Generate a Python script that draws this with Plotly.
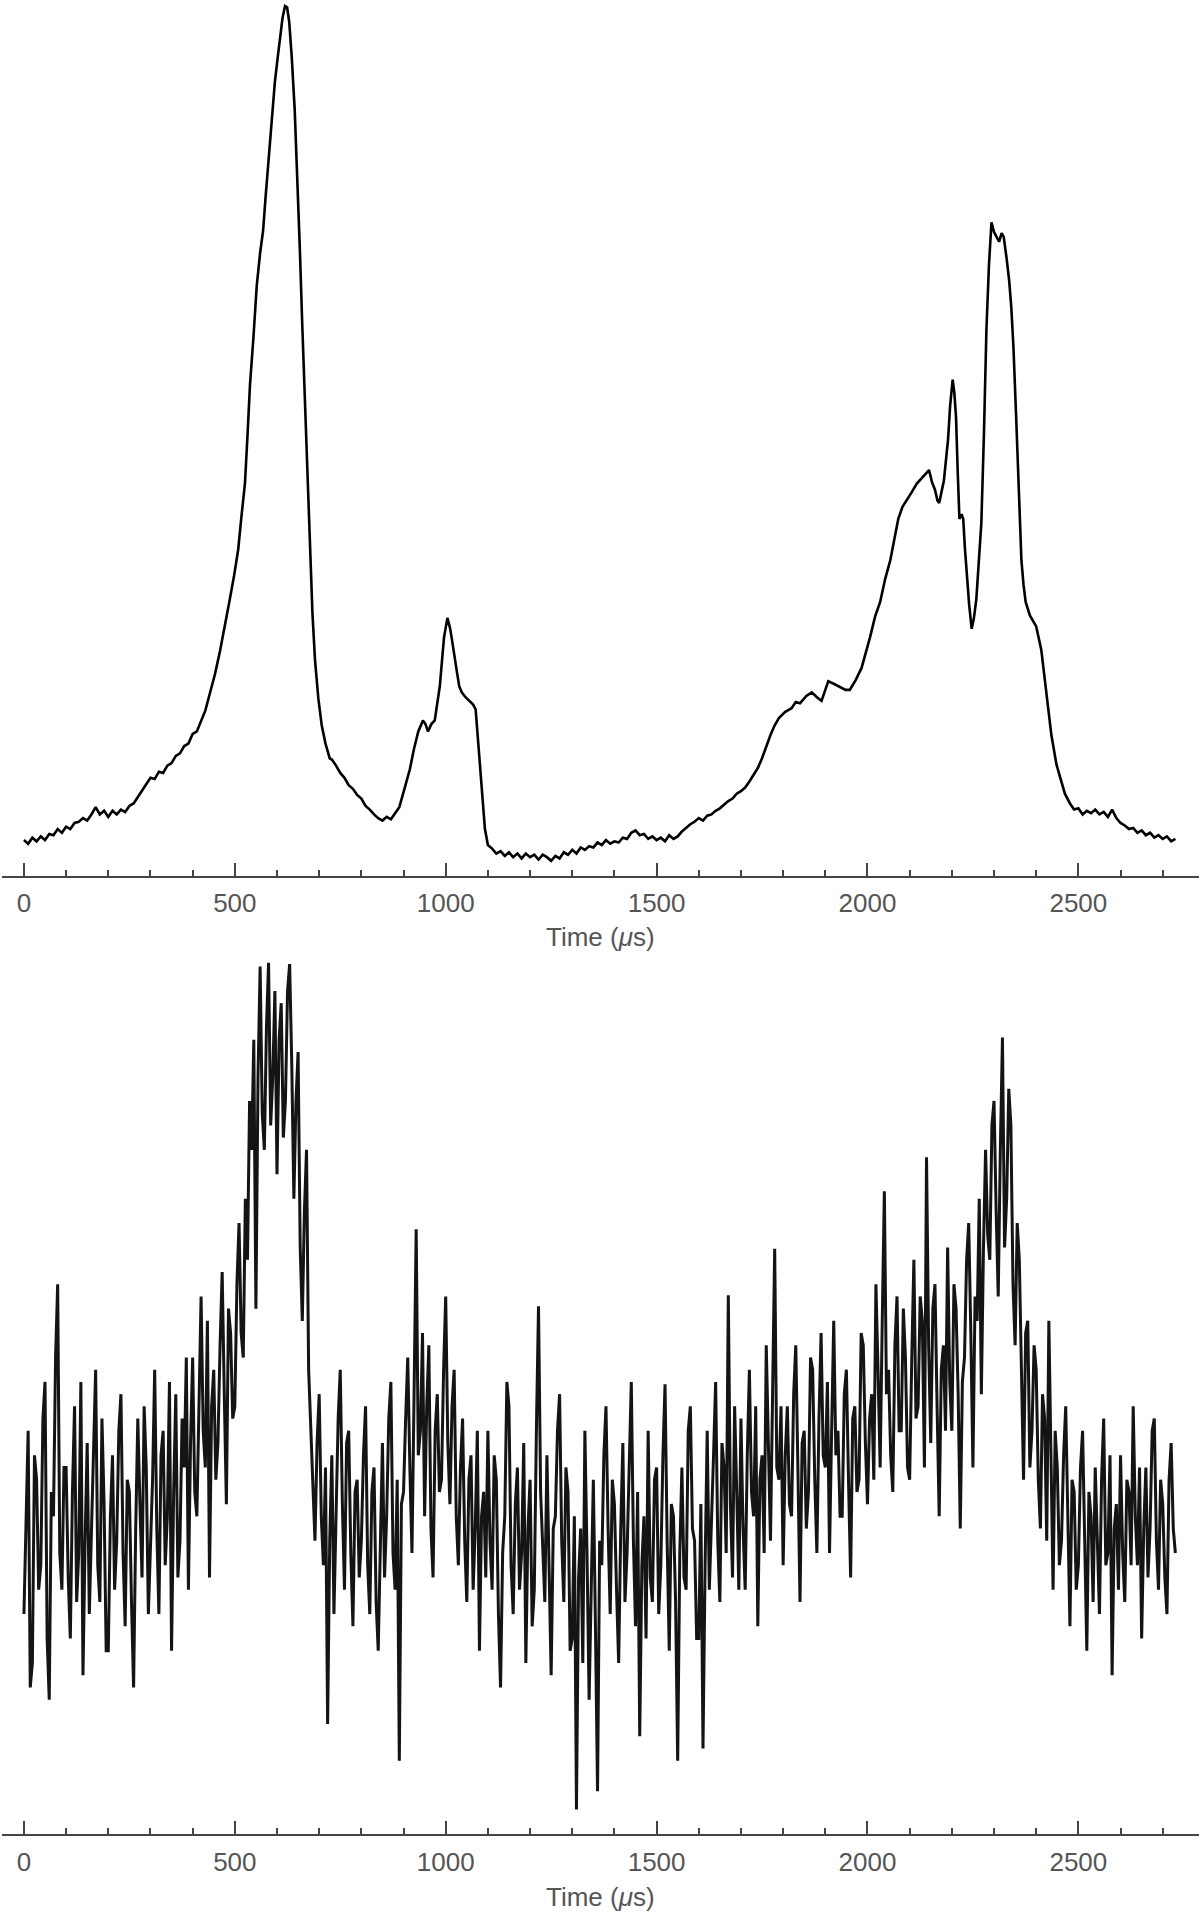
import plotly.graph_objects as go

# ---------------- data ----------------
# Top panel: light curve (arbitrary units)
t_top = [0, 10, 20, 30, 40, 50, 60, 70, 80, 90, 100, 110, 120, 130, 140, 150, 160, 170, 180, 190,
         200, 210, 220, 230, 240, 250, 260, 270, 280, 290, 300, 310, 320, 330, 340, 350, 360, 370, 380, 390,
         400, 410, 420, 430, 440, 453, 465, 477, 488, 498, 508, 516, 524, 530, 536, 544, 552, 560, 567, 573,
         579, 587, 595, 601, 607, 613, 619, 624, 629, 635, 642, 648, 654, 660, 666, 672, 678, 684, 690, 698,
         706, 715, 725, 730, 740, 750, 760, 770, 780, 790, 800, 810, 820, 830, 840, 850, 860, 870, 880, 890,
         903, 915, 925, 935, 946, 952, 958, 966, 974, 980, 986, 991, 996, 1004, 1010, 1014, 1020, 1026, 1032, 1038,
         1047, 1057, 1065, 1071, 1076, 1081, 1087, 1093, 1100, 1110, 1120, 1130, 1140, 1150, 1160, 1170, 1180, 1190, 1200, 1210,
         1220, 1230, 1240, 1250, 1260, 1270, 1280, 1290, 1300, 1310, 1320, 1330, 1340, 1350, 1360, 1370, 1380, 1390, 1400, 1410,
         1420, 1430, 1440, 1450, 1460, 1470, 1480, 1490, 1500, 1510, 1520, 1530, 1540, 1550, 1560, 1570, 1580, 1590, 1600, 1610,
         1620, 1630, 1640, 1650, 1660, 1670, 1680, 1690, 1700, 1710, 1720, 1730, 1740, 1750, 1760, 1770, 1780, 1790, 1805, 1820,
         1830, 1840, 1855, 1868, 1880, 1891, 1900, 1907, 1920, 1935, 1948, 1958, 1972, 1986, 1996, 2006, 2018, 2030, 2042, 2054,
         2064, 2073, 2083, 2093, 2105, 2117, 2127, 2136, 2146, 2153, 2160, 2166, 2170, 2176, 2181, 2186, 2191, 2196, 2202, 2206,
         2210, 2214, 2218, 2223, 2227, 2231, 2235, 2241, 2247, 2252, 2258, 2264, 2270, 2276, 2282, 2288, 2294, 2300, 2306, 2312,
         2318, 2323, 2330, 2336, 2341, 2346, 2352, 2358, 2365, 2370, 2375, 2385, 2395, 2400, 2412, 2424, 2436, 2448, 2458, 2468,
         2480, 2490, 2500, 2510, 2520, 2530, 2540, 2550, 2560, 2570, 2580, 2590, 2600, 2610, 2620, 2630, 2640, 2650, 2660, 2670,
         2680, 2690, 2700, 2710, 2720, 2730]
v_top = [29, 26, 31, 28, 32, 29, 34, 33, 38, 35, 40, 38, 43, 44, 47, 45, 50, 56, 50, 53,
         48, 53, 50, 54, 52, 57, 59, 64, 70, 75, 80, 79, 85, 84, 90, 92, 98, 100, 106, 108,
         116, 118, 126, 135, 148, 165, 184, 205, 226, 245, 267, 295, 321, 360, 402, 440, 483, 510, 528, 556,
         582, 615, 650, 668, 686, 702, 712, 711, 699, 670, 627, 575, 515, 450, 393, 330, 267, 215, 177, 145,
         123, 108, 96, 95, 90, 84, 80, 74, 71, 66, 63, 57, 54, 50, 47, 45, 48, 46, 51, 56,
         72, 87, 104, 118, 127, 124, 118, 124, 127, 140, 155, 175, 195, 211, 203, 195, 180, 168, 155, 150,
         146, 143, 140, 136, 115, 92, 63, 38, 25, 22, 18, 20, 16, 19, 15, 18, 14, 18, 15, 17,
         13, 17, 15, 12, 16, 14, 19, 17, 21, 18, 23, 21, 24, 23, 27, 25, 29, 26, 28, 27,
         31, 30, 35, 37, 33, 34, 30, 32, 29, 31, 28, 33, 30, 32, 36, 39, 42, 44, 47, 45,
         49, 50, 53, 55, 58, 61, 63, 67, 69, 72, 77, 82, 88, 96, 106, 115, 123, 129, 134, 137,
         142, 141, 147, 150, 146, 143, 152, 159, 157, 154, 152, 152, 160, 170, 182, 195, 212, 224, 243, 258,
         276, 292, 302, 307, 314, 321, 325, 328, 332, 322, 316, 307, 305, 315, 323, 340, 357, 385, 406, 395,
         375, 330, 292, 296, 292, 268, 249, 222, 202, 210, 226, 260, 289, 360, 447, 500, 535, 527, 523, 519,
         526, 523, 505, 487, 465, 433, 380, 315, 258, 238, 224, 213, 207, 204, 185, 150, 115, 91, 78, 67,
         59, 54, 55, 50, 53, 51, 54, 50, 52, 48, 54, 47, 43, 41, 38, 39, 35, 37, 33, 35,
         31, 33, 30, 32, 28, 30]

# Bottom panel: noisy light curve sampled every 5 us (arbitrary units)
t_bot = list(range(0, 2731, 5))
v_bot = [
    180, 250, 330, 120, 140, 310, 290, 200, 220, 340, 370, 160, 110, 280, 260, 390, 450, 230, 200, 300,
    300, 210, 160, 280, 350, 190, 230, 370, 130, 240, 320, 180, 250, 310, 380, 220, 190, 340, 270, 150,
    150, 260, 310, 200, 240, 330, 360, 230, 170, 290, 280, 190, 120, 250, 340, 270, 210, 350, 300, 180,
    230, 290, 380, 250, 180, 310, 330, 220, 260, 370, 150, 280, 360, 210, 240, 340, 300, 390, 200, 320,
    390, 280, 260, 350, 440, 330, 300, 420, 210, 350, 380, 290, 320, 400, 460, 360, 270, 430, 410, 340,
    350, 450, 500, 410, 390, 520, 470, 600, 560, 650, 430, 620, 710, 590, 560, 660, 713, 580, 620, 690,
    540, 650, 680, 570, 600, 690, 712, 630, 520, 600, 640, 480, 420, 510, 560, 380, 330, 290, 240, 320,
    360, 260, 220, 300, 90, 240, 310, 180, 250, 340, 380, 270, 200, 320, 330, 230, 170, 280, 290, 210,
    240, 310, 350, 220, 180, 280, 300, 190, 150, 250, 320, 210, 260, 340, 370, 230, 200, 290, 60, 270,
    280, 340, 390, 300, 230, 360, 495, 310, 330, 410, 260, 350, 400, 250, 210, 330, 360, 280, 290, 380,
    440, 320, 270, 350, 380, 260, 220, 300, 340, 240, 190, 290, 310, 200, 250, 330, 150, 260, 280, 210,
    330, 240, 200, 310, 290, 180, 120, 230, 260, 370, 350, 220, 180, 270, 300, 200, 230, 320, 140, 250,
    290, 170, 200, 330, 432, 280, 240, 190, 310, 220, 130, 250, 260, 330, 360, 240, 190, 300, 280, 150,
    160, 260, 20, 210, 250, 140, 330, 230, 110, 200, 290, 170, 35, 240, 220, 310, 350, 250, 180, 290,
    270, 200, 140, 250, 320, 190, 230, 300, 370, 240, 170, 280, 80, 220, 260, 160, 330, 210, 190, 290,
    300, 180, 220, 310, 368, 240, 150, 270, 260, 190, 60, 230, 300, 210, 200, 330, 350, 250, 240, 160,
    160, 270, 70, 220, 330, 200, 250, 310, 370, 240, 190, 320, 300, 230, 441, 270, 210, 350, 280, 200,
    340, 250, 200, 310, 380, 280, 260, 350, 170, 290, 310, 230, 400, 330, 240, 360, 479, 300, 290, 350,
    220, 310, 350, 270, 260, 360, 400, 300, 190, 320, 330, 250, 280, 390, 380, 290, 230, 340, 410, 310,
    300, 370, 230, 330, 420, 310, 330, 260, 260, 360, 380, 290, 210, 340, 350, 280, 290, 410, 400, 320,
    270, 340, 360, 290, 450, 380, 300, 420, 526, 360, 380, 310, 280, 400, 440, 330, 330, 430, 390, 300,
    290, 390, 470, 340, 350, 440, 420, 300, 554, 400, 320, 430, 450, 350, 260, 380, 400, 330, 480, 370,
    330, 450, 430, 360, 250, 370, 390, 470, 500, 410, 300, 440, 420, 520, 360, 480, 560, 490, 470, 580,
    600, 510, 440, 560, 652, 480, 520, 610, 580, 450, 400, 500, 470, 380, 290, 410, 420, 300, 330, 400,
    380, 290, 250, 360, 340, 240, 420, 310, 200, 330, 300, 220, 240, 310, 350, 260, 170, 290, 280, 200,
    220, 300, 330, 240, 150, 280, 260, 190, 300, 240, 180, 290, 340, 220, 230, 310, 130, 250, 270, 200,
    310, 230, 190, 290, 280, 220, 350, 260, 220, 300, 160, 250, 300, 210, 250, 330, 340, 240, 200, 290,
    270, 210, 180, 290, 320, 250, 230,
]

x_tickvals = [0, 500, 1000, 1500, 2000, 2500]
x_ticktext = ["0", "500", "1000", "1500", "2000", "2500"]
x_title = "Time (<i>μ</i>s)"

# ---------------- figure ----------------
W, H = 1200, 1914
fig = go.Figure()
fig.add_trace(go.Scatter(x=t_top, y=v_top, mode="lines",
                         line=dict(color="black", width=2.6),
                         xaxis="x", yaxis="y", showlegend=False))
fig.add_trace(go.Scatter(x=t_bot, y=v_bot, mode="lines",
                         line=dict(color="#141414", width=3.0),
                         xaxis="x2", yaxis="y2", showlegend=False))

xcommon = dict(
    range=[-52, 2786], domain=[0, 1],
    showline=True, linecolor="#444", linewidth=1.5,
    ticks="inside", ticklen=13, tickwidth=1.5, tickcolor="#444",
    tickvals=x_tickvals, ticktext=x_ticktext,
    minor=dict(ticks="inside", ticklen=6, tickwidth=1.5, tickcolor="#444",
               tick0=0, dtick=100, showgrid=False),
    showgrid=False, zeroline=False,
    tickfont=dict(family="Liberation Sans", size=26, color="#555"),
    ticklabelstandoff=4,
)


def py(pix):
    return (H - pix) / H


fig.update_layout(
    width=W, height=H,
    margin=dict(l=2, r=1, t=0, b=0),
    paper_bgcolor="white", plot_bgcolor="white",
    xaxis=dict(anchor="y", **xcommon),
    xaxis2=dict(anchor="y2", **xcommon),
    yaxis=dict(domain=[py(875.5), 1.0], range=[0, 717], visible=False),
    yaxis2=dict(domain=[py(1834), py(958)], range=[0, 717], visible=False),
    annotations=[
        dict(text=x_title, xref="paper", yref="paper", x=0.5, y=py(937),
             xanchor="center", yanchor="middle", showarrow=False,
             font=dict(family="Liberation Sans", size=26, color="#555")),
        dict(text=x_title, xref="paper", yref="paper", x=0.5, y=py(1897),
             xanchor="center", yanchor="middle", showarrow=False,
             font=dict(family="Liberation Sans", size=26, color="#555")),
    ],
)

fig.write_html("out.html", config={"displayModeBar": False},
               post_script="document.body.style.margin='0';document.body.style.overflow='hidden';")
